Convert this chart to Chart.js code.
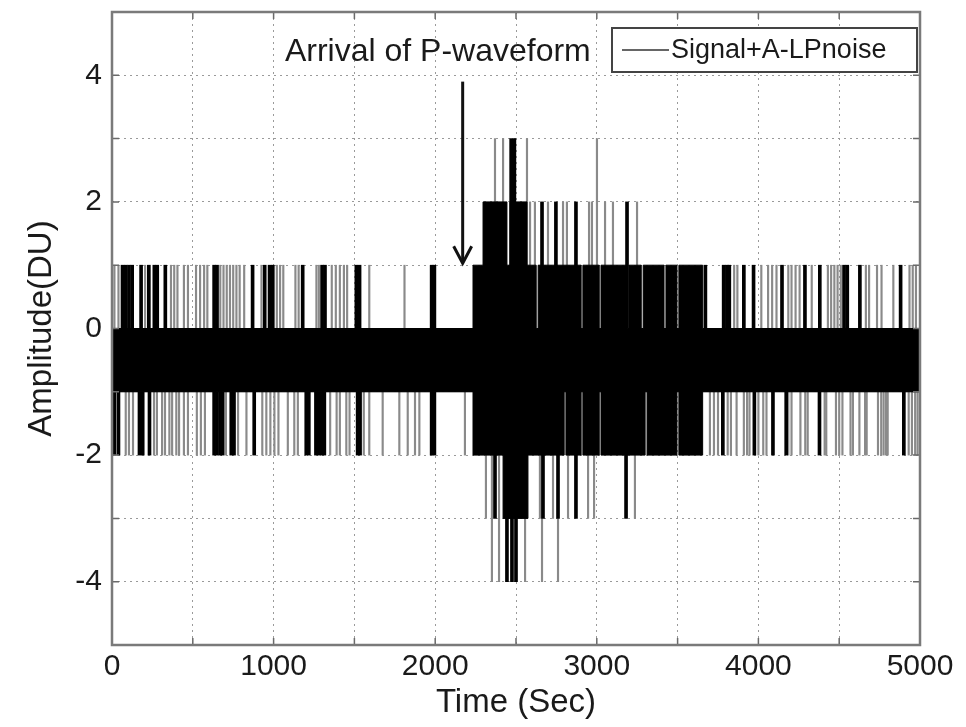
<!DOCTYPE html>
<html>
<head>
<meta charset="utf-8">
<script src="https://cdn.jsdelivr.net/npm/chart.js@4.4.1/dist/chart.umd.min.js"></script>
<style>
html,body{margin:0;padding:0;background:#fff;}
canvas{display:block;}
</style>
</head>
<body>
<canvas id="c" width="966" height="727"></canvas>
<script>
// ---- text / axes ----
const xTitle = 'Time (Sec)';
const yTitle = 'Amplitude(DU)';
const seriesName = 'Signal+A-LPnoise';
const annotationText = 'Arrival of P-waveform';
const xLabelled = [0, 1000, 2000, 3000, 4000, 5000];
const yLabelled = [-4, -2, 0, 2, 4];
const xRange = [0, 5000];
const yRange = [-5, 5];

// ---- annotation (data coordinates) ----
const arrivalTime = 2170;
const arrowFromV = 3.9;
const arrowToV = 1.03;
const annotationT = 1070;
const annotationV = 4.37;

// ---- dense core of the signal: upper / lower envelope (step-wise, value holds until next time) ----
const upperT = [0, 2234, 2296, 2444, 2463, 2568, 2625, 2637, 2903, 2914, 3015, 3026, 3188, 3199, 3275, 3287, 3416, 3428, 3496, 3508, 3655, 5000];
const upperV = [0, 1, 2, 1, 2, 1, 0, 1, 0, 1, 0, 1, 0, 1, 0, 1, 0, 1, 0, 1, 0, 0];
const lowerT = [0, 2234, 2420, 2574, 2798, 2809, 2903, 2914, 3015, 3026, 3299, 3311, 3496, 3508, 3655, 5000];
const lowerV = [-1, -2, -3, -2, -1, -2, -1, -2, -1, -2, -1, -2, -1, -2, -1, -1];

// ---- isolated excursions (time of each spike), grouped by level reached ----
// strong (dark) spikes
const heavyTo1 = [65, 85, 105, 125, 180, 228, 262, 280, 330, 632, 650, 870, 945, 975, 995, 1180, 1300, 1318, 1512, 1532, 1978, 1995,
                  3672, 3785, 3805, 3820, 3910, 3970, 4146, 4288, 4380, 4530, 4550, 4628, 4880];
const heavyTo2 = [2661, 2747, 2871, 3187];
const heavyTo3 = [2470, 2490];
const heavyToM2 = [15, 40, 170, 190, 232, 632, 650, 670, 685, 738, 755, 880, 1202, 1218, 1262, 1280, 1298, 1314, 1520, 1535, 1978, 1995,
                   3780, 3975, 4090, 4172, 4378, 4900];
const heavyToM3 = [2370, 2667, 2760, 2871, 3181];
const heavyToM4 = [2444, 2475, 2500];
// faint (grey) spikes
const lightTo1 = [15, 40, 205, 365, 385, 405, 445, 470, 520, 545, 570, 590, 670, 690, 710, 730, 750, 770, 790, 818, 925, 1020, 1040, 1060,
                  1135, 1155, 1265, 1280, 1360, 1385, 1410, 1435, 1455, 1592, 1810,
                  3850, 3870, 4018, 4060, 4085, 4112, 4185, 4205, 4230, 4255, 4330, 4430, 4450, 4470, 4490, 4510, 4665, 4685, 4734,
                  4762, 4835, 4935, 4955, 4975];
const lightTo2 = [2587, 2617, 2698, 2791, 2815, 2952, 2970, 3051, 3100, 3249];
const lightTo3 = [2370, 2420, 2568, 3001];
const lightToM2 = [85, 105, 130, 260, 278, 310, 328, 355, 372, 398, 415, 445, 470, 525, 550, 575, 705, 780, 832, 930, 955, 980, 1005, 1030,
                   1088, 1128, 1150, 1350, 1390, 1410, 1450, 1470, 1558, 1592, 1675, 1778, 1830, 1875, 1902, 2184,
                   3700, 3725, 3750, 3810, 3830, 3865, 3910, 3930, 3945, 4000, 4030, 4050, 4185, 4205, 4260, 4290, 4305, 4410, 4420,
                   4480, 4500, 4520, 4570, 4585, 4625, 4660, 4670, 4740, 4760, 4775, 4790, 4800, 4930, 4950, 4970, 4985];
const lightToM3 = [2314, 2648, 2729, 2822, 2946, 2983, 3236];
const lightToM4 = [2351, 2395, 2556, 2661, 2760];

// ---- build library data ----
function spikes(times, level) {
  const base = level > 0 ? 0 : -1;
  return times.map(t => ({x: t, y: [base, level]}));
}
const heavyData = [].concat(
  spikes(heavyTo1, 1), spikes(heavyTo2, 2), spikes(heavyTo3, 3),
  spikes(heavyToM2, -2), spikes(heavyToM3, -3), spikes(heavyToM4, -4));
const lightData = [].concat(
  spikes(lightTo1, 1), spikes(lightTo2, 2), spikes(lightTo3, 3),
  spikes(lightToM2, -2), spikes(lightToM3, -3), spikes(lightToM4, -4));
const upperData = upperT.map((t, i) => ({x: t, y: upperV[i]}));
const lowerData = lowerT.map((t, i) => ({x: t, y: lowerV[i]}));

const FONT = "'Liberation Sans', Arial, sans-serif";

const decorations = {
  id: 'decorations',
  afterDraw(chart) {
    const {ctx, chartArea: a, scales: {x, y}} = chart;
    ctx.save();
    // inward tick marks on all four sides
    ctx.strokeStyle = '#6a6a6a';
    ctx.lineWidth = 1.5;
    ctx.beginPath();
    x.ticks.forEach(t => {
      const px = x.getPixelForValue(t.value);
      ctx.moveTo(px, a.bottom); ctx.lineTo(px, a.bottom - 7);
      ctx.moveTo(px, a.top); ctx.lineTo(px, a.top + 7);
    });
    y.ticks.forEach(t => {
      const py = y.getPixelForValue(t.value);
      ctx.moveTo(a.left, py); ctx.lineTo(a.left + 7, py);
      ctx.moveTo(a.right, py); ctx.lineTo(a.right - 7, py);
    });
    ctx.stroke();
    // axes box
    ctx.strokeStyle = '#7a7a7a';
    ctx.lineWidth = 2.5;
    ctx.strokeRect(a.left, a.top, a.right - a.left, a.bottom - a.top);

    // annotation text + arrow
    ctx.fillStyle = '#1a1a1a';
    ctx.font = '32px ' + FONT;
    ctx.textAlign = 'left';
    ctx.textBaseline = 'middle';
    ctx.fillText(annotationText, x.getPixelForValue(annotationT), y.getPixelForValue(annotationV));
    const ax = x.getPixelForValue(arrivalTime);
    const y0 = y.getPixelForValue(arrowFromV);
    const y1 = y.getPixelForValue(arrowToV);
    ctx.strokeStyle = '#111';
    ctx.lineWidth = 3;
    ctx.beginPath();
    ctx.moveTo(ax, y0); ctx.lineTo(ax, y1 - 1);
    ctx.stroke();
    ctx.beginPath();
    ctx.moveTo(ax - 9, y1 - 17); ctx.lineTo(ax, y1); ctx.lineTo(ax + 9, y1 - 17);
    ctx.stroke();

    // legend box
    const lw = 305, lh = 44;
    const lx = a.right - lw - 3, ly = a.top + 16;
    ctx.fillStyle = '#fff';
    ctx.fillRect(lx, ly, lw, lh);
    ctx.strokeStyle = '#444';
    ctx.lineWidth = 2;
    ctx.strokeRect(lx, ly, lw, lh);
    ctx.strokeStyle = '#333';
    ctx.lineWidth = 1.5;
    ctx.beginPath();
    ctx.moveTo(lx + 10, ly + lh / 2); ctx.lineTo(lx + 57, ly + lh / 2);
    ctx.stroke();
    ctx.fillStyle = '#1a1a1a';
    ctx.font = '27px ' + FONT;
    ctx.fillText(seriesName, lx + 59, ly + lh / 2 + 1);
    ctx.restore();
  }
};

new Chart(document.getElementById('c'), {
  type: 'line',
  data: {
    datasets: [
      {type: 'line', label: 'upper', data: upperData, stepped: 'before', borderColor: '#000', borderWidth: 1,
       backgroundColor: '#000', fill: {value: -1}, pointRadius: 0},
      {type: 'line', label: 'lower', data: lowerData, stepped: 'before', borderColor: '#000', borderWidth: 1,
       backgroundColor: '#000', fill: {value: 0}, pointRadius: 0},
      {type: 'bar', label: 'heavy', data: heavyData, backgroundColor: '#000', borderWidth: 0,
       barThickness: 3, grouped: false},
      {type: 'bar', label: 'light', data: lightData, backgroundColor: '#8a8a8a', borderWidth: 0,
       barThickness: 1.5, grouped: false}
    ]
  },
  options: {
    responsive: false,
    animation: false,
    devicePixelRatio: 1,
    layout: {padding: {top: 12, right: 46, bottom: 0, left: 0}},
    plugins: {legend: {display: false}, tooltip: {enabled: false}},
    scales: {
      x: {
        type: 'linear', min: xRange[0], max: xRange[1], offset: false,
        grid: {color: '#9a9a9a', lineWidth: 1, drawTicks: false, offset: false},
        border: {display: false, dash: [2, 4]},
        ticks: {
          stepSize: 500, autoSkip: false, maxRotation: 0, padding: 4,
          color: '#1a1a1a', font: {family: FONT, size: 30},
          callback: v => xLabelled.includes(v) ? String(v) : ''
        },
        title: {display: true, text: xTitle, color: '#1a1a1a', font: {family: FONT, size: 33},
                padding: {top: 0, bottom: 4}},
        afterFit: s => { s.height = 82; s.paddingLeft = 0; s.paddingRight = 0; }
      },
      y: {
        type: 'linear', min: yRange[0], max: yRange[1],
        grid: {color: '#9a9a9a', lineWidth: 1, drawTicks: false},
        border: {display: false, dash: [2, 4]},
        ticks: {
          stepSize: 1, autoSkip: false, padding: 10,
          color: '#1a1a1a', font: {family: FONT, size: 30},
          callback: v => yLabelled.includes(v) ? String(v) : ''
        },
        title: {display: true, text: yTitle, color: '#1a1a1a', font: {family: FONT, size: 33},
                padding: {top: 22, bottom: 0}},
        afterFit: s => { s.width = 112; s.paddingTop = 0; s.paddingBottom = 0; }
      }
    }
  },
  plugins: [decorations]
});
</script>
</body>
</html>
